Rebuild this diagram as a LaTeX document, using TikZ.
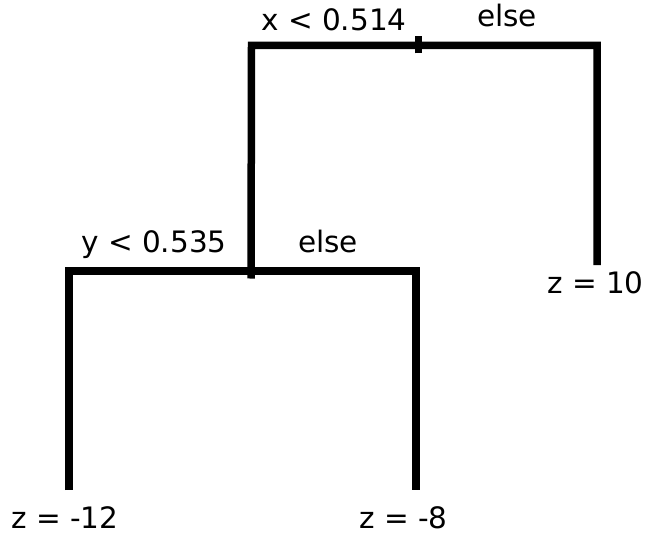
\documentclass[tikz,border=0pt]{standalone}
\usepackage{fontspec}
\setmainfont{DejaVu Sans}
\usetikzlibrary{positioning}
\tikzset{
  branch/.style={line width=7.5pt, line join=miter, line cap=butt},
  lbl/.style={inner sep=0pt, anchor=base west, font=\fontsize{29.5}{34}\selectfont}
}
\begin{document}
\begin{tikzpicture}[x=1pt, y=-1pt]
  \useasboundingbox (0,0) rectangle (645,535);
  % Split points and leaves
  \coordinate (root) at (418.5,45.5);
  \coordinate (split) at (251,271);
  \coordinate (rootL) at (251.5,45.5);
  \coordinate (rootR) at (597,45.5);
  \coordinate (splitL) at (69,271);
  \coordinate (splitR) at (416,271);
  \coordinate (leafA) at (69,490);
  \coordinate (leafB) at (416,490);
  \coordinate (leafC) at (597,265);
  % Branches
  \draw[branch] ([yshift=-7.5pt]split) -- (rootL) -- (rootR) -- (leafC);
  \draw[branch] (leafA) -- (splitL) -- (splitR) -- (leafB);
  \draw[line width=7pt] ([yshift=-8pt]root) -- ([yshift=9pt]root);
  % Labels
  \node[lbl] (rootcond) at (261,31) {x < 0.514};
  \node[lbl] (rootelse) at (477,27) {else};
  \node[lbl] (splitcond) at (81,252) {y < 0.535};
  \node[lbl] (splitelse) at (298,252) {else};
  \node[lbl] (valA) at (11,528) {z = -12};
  \node[lbl] (valB) at (359,528) {z = -8};
  \node[lbl] (valC) at (547,293) {z = 10};
\end{tikzpicture}
\end{document}
